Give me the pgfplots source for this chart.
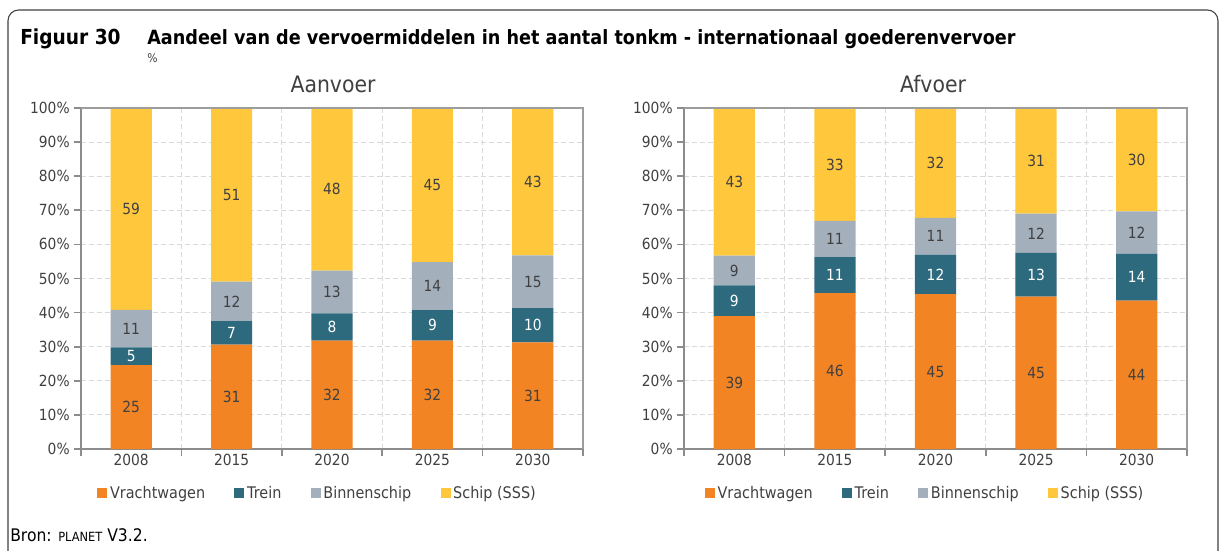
\documentclass[border=0pt]{standalone}
\usepackage{fontspec}
\setmainfont{DejaVu Sans}[FakeStretch=0.9]
\usepackage{pgfplots}
\usepackage{pgfplotstable}
\pgfplotsset{compat=1.18}
\definecolor{cOr}{HTML}{F28423}
\definecolor{cTe}{HTML}{2E6A7D}
\definecolor{cGr}{HTML}{A4AFBC}
\definecolor{cYe}{HTML}{FFC73B}
\definecolor{txt}{HTML}{404040}
\definecolor{axg}{HTML}{8C8C8C}
\definecolor{grd}{HTML}{D9D9D9}

\pgfplotstableread{
x v vl t tl b bl s sl
0 24.6 25 5.2 5 11.0 11 59.2 59
1 30.6 31 6.9 7 11.6 12 50.9 51
2 31.8 32 8.0 8 12.5 13 47.7 48
3 31.8 32 8.9 9 14.1 14 45.2 45
4 31.3 31 10.0 10 15.5 15 43.2 43
}\aanvoer

\pgfplotstableread{
x v vl t tl b bl s sl
0 39.0 39 9.0 9 8.7 9 43.3 43
1 45.7 46 10.6 11 10.6 11 33.1 33
2 45.4 45 11.6 12 10.8 11 32.2 32
3 44.7 45 12.8 13 11.5 12 31.0 31
4 43.5 44 13.8 14 12.4 12 30.3 30
}\afvoer

\pgfplotsset{
  sq/.style={legend image code/.code={\fill[##1] (0pt,-3.75pt) rectangle (7.5pt,3.75pt);}},
  mybars/.style={
    ybar stacked, bar width=0.41,
    scale only axis, width=376.5pt, height=255.75pt,
    xmin=-0.5, xmax=4.5, ymin=0, ymax=100,
    axis lines=left, axis line style={-, draw=axg, line width=1.5pt},
    tick align=outside,
    xtick={-0.5,0.5,1.5,2.5,3.5,4.5}, xticklabels={},
    extra x ticks={0,1,2,3,4},
    extra x tick labels={2008,2015,2020,2025,2030},
    extra x tick style={major tick length=0pt, grid=none},
    ytick={0,10,...,100},
    yticklabel={\pgfmathprintnumber{\tick}\%},
    /pgf/number format/assume math mode=true,
    major tick length=5pt,
    tick style={draw=axg, line width=1.2pt},
    xmajorgrids, ymajorgrids,
    grid style={dash pattern=on 3.5pt off 2.5pt, draw=grd, line width=0.75pt},
    tick label style={font=\fontsize{11.5}{13}\selectfont, text=txt},
    point meta=explicit symbolic,
    nodes near coords={\pgfplotspointmeta},
    every node near coord/.append style={anchor=center,
      font=\fontsize{11.5}{13}\selectfont, text=txt},
    legend columns=4,
    legend style={at={(0.472,-0.093)}, anchor=north, draw=none, fill=none,
      font=\fontsize{12}{14}\selectfont, text=txt,
      /tikz/every even column/.append style={column sep=20pt}},
    after end axis/.code={\draw[axg!85, line width=1.2pt] (rel axis cs:0,1) -- (rel axis cs:1,1) -- (rel axis cs:1,0);},
  }
}

\begin{document}
\begin{tikzpicture}
\clip (0,0) rectangle (914.25pt,412.5pt);
\draw[color=txt, line width=0.8pt, rounded corners=8pt] (6pt,-50pt) rectangle (913.5pt,405pt);

\node[anchor=base west, inner sep=0pt, font=\bfseries\fontsize{15.5}{18}\selectfont, text=black] at (15pt,378.75pt) {Figuur 30};
\node[anchor=base west, inner sep=0pt, font=\bfseries\fontsize{14.7}{18}\selectfont, text=black] at (110.25pt,378.75pt) {Aandeel van de vervoermiddelen in het aantal tonkm - internationaal goederenvervoer};
\node[anchor=base west, inner sep=0pt, font=\fontsize{9}{10}\selectfont, text=txt] at (110.25pt,365.25pt) {\%};
\node[anchor=base, inner sep=0pt, font=\fontsize{17}{20}\selectfont, text=txt] at (249.75pt,342.75pt) {Aanvoer};
\node[anchor=base, inner sep=0pt, font=\fontsize{17}{20}\selectfont, text=txt] at (699.75pt,342.75pt) {Afvoer};
\node[anchor=base west, inner sep=0pt, font=\fontsize{13}{15}\selectfont, text=black] at (7.5pt,6.75pt) {Bron: {\fontsize{9.5}{11}\selectfont PLANET} V3.2.};

\begin{axis}[mybars, at={(60.75pt,75.75pt)}, anchor=south west]
\addplot[fill=cOr, draw=none, sq] table[x=x, y=v, meta=vl] {\aanvoer};
\addplot[fill=cTe, draw=none, sq, every node near coord/.append style={text=white}] table[x=x, y=t, meta=tl] {\aanvoer};
\addplot[fill=cGr, draw=none, sq] table[x=x, y=b, meta=bl] {\aanvoer};
\addplot[fill=cYe, draw=none, sq] table[x=x, y=s, meta=sl] {\aanvoer};
\legend{Vrachtwagen,Trein,Binnenschip,Schip (SSS)}
\end{axis}

\begin{axis}[mybars, at={(513pt,75.75pt)}, anchor=south west, width=377.25pt, legend style={at={(0.48,-0.093)}}]
\addplot[fill=cOr, draw=none, sq] table[x=x, y=v, meta=vl] {\afvoer};
\addplot[fill=cTe, draw=none, sq, every node near coord/.append style={text=white}] table[x=x, y=t, meta=tl] {\afvoer};
\addplot[fill=cGr, draw=none, sq] table[x=x, y=b, meta=bl] {\afvoer};
\addplot[fill=cYe, draw=none, sq] table[x=x, y=s, meta=sl] {\afvoer};
\legend{Vrachtwagen,Trein,Binnenschip,Schip (SSS)}
\end{axis}
\end{tikzpicture}
\end{document}
